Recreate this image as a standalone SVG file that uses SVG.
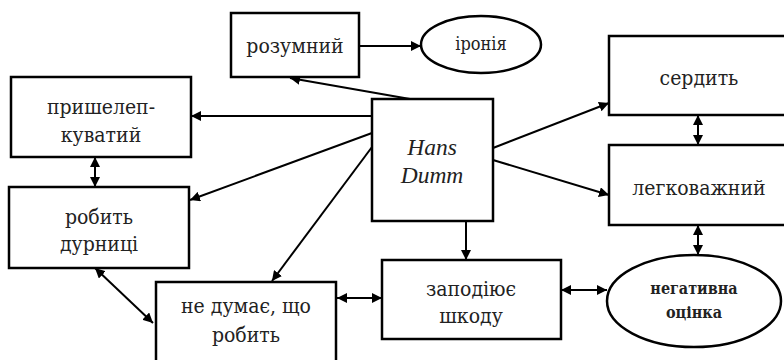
<svg xmlns="http://www.w3.org/2000/svg" width="784" height="360" viewBox="0 0 784 360">
<defs>
<marker id="a" viewBox="0 0 10 10" refX="10" refY="5" markerWidth="10" markerHeight="10" markerUnits="userSpaceOnUse" orient="auto-start-reverse"><path d="M0,0 L10,5 L0,10 z" fill="#000"/></marker>
</defs>
<style>
.b{fill:#fff;stroke:#000;stroke-width:2.5}
.t{font-family:"DejaVu Serif Condensed","DejaVu Serif",serif;font-stretch:condensed;font-size:21px;fill:#222;text-anchor:middle}
.s{font-size:18px}
.n{font-size:16px;font-weight:bold}
.i{font-family:"Liberation Serif","DejaVu Serif",serif;font-style:italic;font-size:23.5px}
.c{stroke:#000;stroke-width:2;fill:none;marker-end:url(#a)}
.d{marker-start:url(#a)}
</style>
<rect width="784" height="360" fill="#fff"/>
<g id="connectors">
<path class="c" d="M359,46 L421,46"/>
<path class="c" d="M410,99 L290,78"/>
<path class="c" d="M372,116 L191,116"/>
<path class="c" d="M372,133 L190,200"/>
<path class="c" d="M372,147 L272,281"/>
<path class="c" d="M466,221 L466,260"/>
<path class="c" d="M493,148 L609,103"/>
<path class="c" d="M493,160 L609,195"/>
<path class="c d" d="M95,157 L95,187"/>
<path class="c d" d="M95,268 L153,323"/>
<path class="c d" d="M337,298 L382,298"/>
<path class="c d" d="M561,290 L607,290"/>
<path class="c d" d="M698,115 L698,145"/>
<path class="c d" d="M698,225 L698,255"/>
</g>
<g id="rozumnyi"><rect class="b" x="231" y="13" width="128" height="64"/><text class="t" x="295" y="53">розумний</text></g>
<g id="ironiya"><ellipse class="b" cx="481" cy="44.5" rx="60" ry="28.5"/><text class="t s" x="481" y="50">іронія</text></g>
<g id="pryshelep"><rect class="b" x="11" y="77" width="180" height="80"/><text class="t" x="101" y="114">пришелеп-</text><text class="t" x="101" y="142">куватий</text></g>
<g id="hans"><rect class="b" x="372" y="99" width="121" height="122"/><text class="t i" x="432" y="155">Hans</text><text class="t i" x="432" y="183">Dumm</text></g>
<g id="serdyt"><rect class="b" x="609" y="36" width="190" height="79"/><text class="t" x="699" y="85">сердить</text></g>
<g id="lehkovazhnyi"><rect class="b" x="609" y="145" width="190" height="80"/><text class="t" x="699" y="195">легковажний</text></g>
<g id="robyt"><rect class="b" x="9" y="187" width="180" height="81"/><text class="t" x="99" y="224">робить</text><text class="t" x="99" y="251">дурниці</text></g>
<g id="ne-dumaie"><rect class="b" x="156" y="282" width="180" height="90"/><text class="t" x="246" y="313">не думає, що</text><text class="t" x="246" y="342">робить</text></g>
<g id="zapodiiuie"><rect class="b" x="382" y="260" width="179" height="79"/><text class="t" x="471" y="296">заподіює</text><text class="t" x="471" y="323">шкоду</text></g>
<g id="nehatyvna"><ellipse class="b" cx="694" cy="301" rx="87" ry="46"/><text class="t n" x="694" y="294">негативна</text><text class="t n" x="694" y="318">оцінка</text></g>
</svg>
